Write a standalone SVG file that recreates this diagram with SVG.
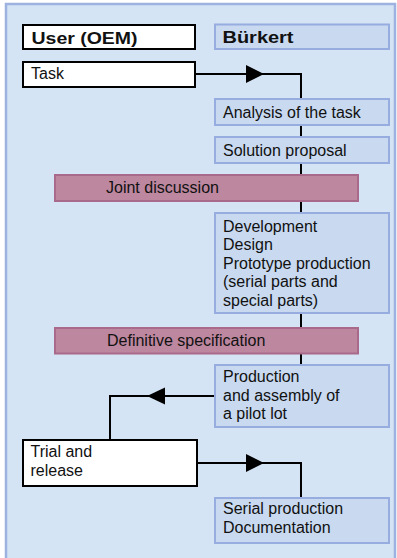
<svg xmlns="http://www.w3.org/2000/svg" width="397" height="558" viewBox="0 0 397 558">
<style>
text{font-family:"Liberation Sans",Arial,sans-serif;font-size:16px;fill:#111}
.hd{font-weight:bold;font-size:16px}
.w{fill:#fff;stroke:#000;stroke-width:2}
.b{fill:#c8d9f0;stroke:#97acdf;stroke-width:2}
.m{fill:#bd879f;stroke:#a9698a;stroke-width:2}
.c{fill:none;stroke:#000;stroke-width:2}
.ah{fill:#000}
</style>
<rect x="6" y="4" width="389" height="600" fill="#d5e4f4" stroke="#9db2de" stroke-width="2.5"/>
<g id="connectors">
<path class="c" d="M195,74 H301 V99"/>
<polygon class="ah" points="246,65 264,74 246,83"/>
<path class="c" d="M301,125 V137"/>
<path class="c" d="M301,163 V175"/>
<path class="c" d="M301,201 V213"/>
<path class="c" d="M301,313 V328"/>
<path class="c" d="M301,353 V365"/>
<path class="c" d="M215,396 H110 V440"/>
<polygon class="ah" points="165,387.5 147,396 165,404.5"/>
<path class="c" d="M197,463 H301 V498"/>
<polygon class="ah" points="246,454 264,463 246,472"/>
</g>
<g id="user-oem"><rect class="w" x="23" y="25" width="172" height="24"/><text class="hd" x="31.5" y="43.5" textLength="106" lengthAdjust="spacingAndGlyphs">User (OEM)</text></g>
<g id="buerkert"><rect class="b" x="215" y="24.5" width="174" height="24.5"/><text class="hd" x="222.5" y="43.3" textLength="71" lengthAdjust="spacingAndGlyphs">Bürkert</text></g>
<g id="task"><rect class="w" x="23" y="62" width="172" height="25"/><text x="31" y="79">Task</text></g>
<g id="analysis"><rect class="b" x="215" y="99" width="174" height="26"/><text x="223" y="117.5">Analysis of the task</text></g>
<g id="solution"><rect class="b" x="215" y="137" width="174" height="26"/><text x="223" y="156">Solution proposal</text></g>
<g id="joint-discussion"><rect class="m" x="55" y="175" width="303" height="26"/><text x="106" y="193.3">Joint discussion</text></g>
<g id="development"><rect class="b" x="215" y="213" width="174" height="100"/><text x="223" y="231.5">Development</text><text x="223" y="250">Design</text><text x="223" y="268.5">Prototype production</text><text x="223" y="287">(serial parts and</text><text x="223" y="305.5">special parts)</text></g>
<g id="definitive-specification"><rect class="m" x="55" y="328" width="303" height="25.5"/><text x="107" y="345.7">Definitive specification</text></g>
<g id="production"><rect class="b" x="215" y="365" width="174" height="62"/><text x="223" y="382.3">Production</text><text x="223" y="400.7">and assembly of</text><text x="223" y="419">a pilot lot</text></g>
<g id="trial"><rect class="w" x="23" y="440" width="174" height="46"/><text x="30.5" y="456.7">Trial and</text><text x="30.5" y="476">release</text></g>
<g id="serial"><rect class="b" x="215" y="498" width="174" height="45"/><text x="223" y="514.3">Serial production</text><text x="223" y="533">Documentation</text></g>
</svg>
